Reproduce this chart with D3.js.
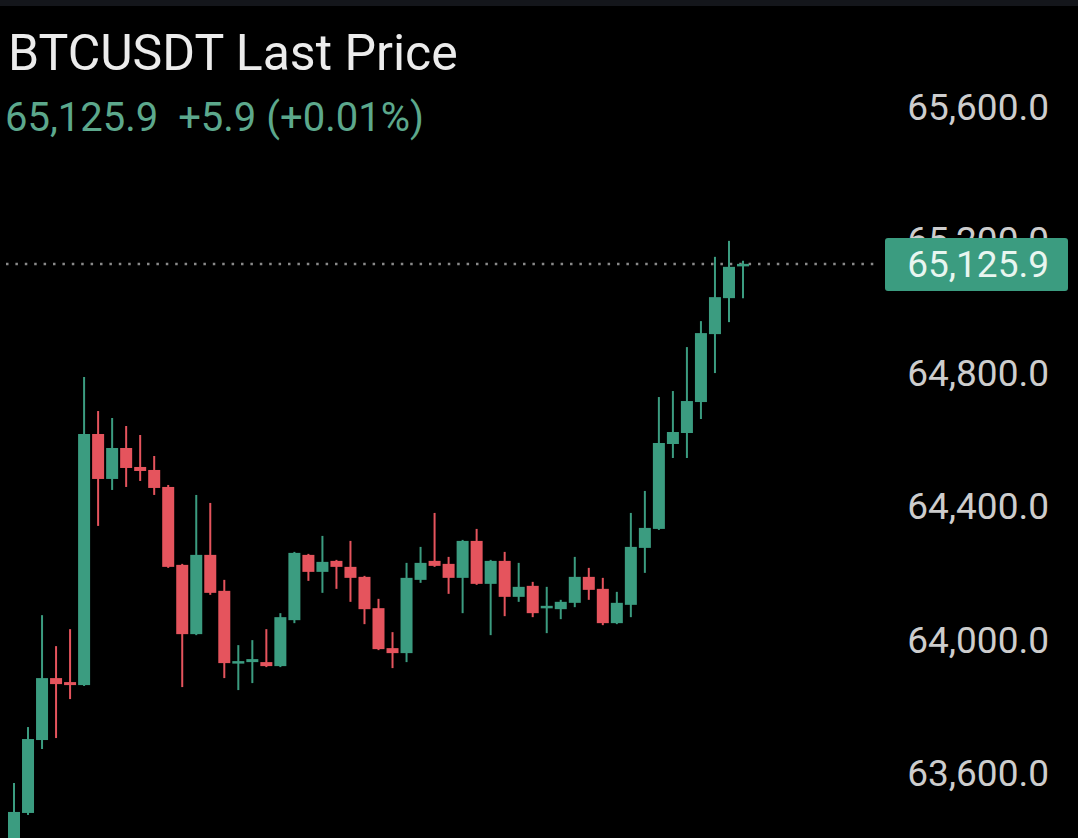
<!DOCTYPE html>
<html>
<head>
<meta charset="utf-8">
<script src="https://cdn.jsdelivr.net/npm/d3@7"></script>
<style>
  html, body { margin: 0; padding: 0; background: #000; }
  svg { display: block; }
</style>
</head>
<body>
<svg class="candle-chart"></svg>
<script>
'use strict';

// Candle data (one per bar, left to right)
var opens  = [63366, 63477, 63696, 63882, 63870, 63861, 64615, 64480, 64573, 64516,
              64507, 64456, 64222, 64014, 64252, 64144, 63927, 63930, 63930, 63918,
              64056, 64252, 64201, 64234, 64216, 64186, 64092, 63972, 63957, 64177,
              64234, 64225, 64183, 64294, 64165, 64234, 64126, 64159, 64092, 64089,
              64108, 64186, 64150, 64047, 64102, 64273, 64330, 64585, 64618, 64711,
              64915, 65023, 65120];
var highs  = [63567, 63735, 64071, 63978, 64029, 64786, 64684, 64663, 64639, 64612,
              64549, 64462, 64225, 64432, 64408, 64177, 63981, 63996, 64029, 64077,
              64261, 64255, 64309, 64237, 64294, 64189, 64120, 64020, 64228, 64276,
              64378, 64246, 64297, 64330, 64237, 64261, 64228, 64171, 64156, 64117,
              64246, 64213, 64183, 64141, 64378, 64444, 64726, 64744, 64876, 64954,
              65147, 65195, 65135];
var lows   = [63321, 63471, 63669, 63702, 63819, 63858, 64339, 64447, 64456, 64474,
              64432, 64213, 63855, 64011, 64132, 63882, 63846, 63867, 63915, 63915,
              64047, 64174, 64138, 64150, 64111, 64044, 63966, 63912, 63930, 64168,
              64216, 64135, 64077, 64162, 64011, 64068, 64111, 64065, 64017, 64059,
              64095, 64117, 64041, 64044, 64065, 64198, 64327, 64543, 64543, 64660,
              64798, 64951, 65023];
var closes = [63480, 63699, 63882, 63864, 63861, 64615, 64480, 64573, 64513, 64504,
              64453, 64216, 64014, 64252, 64138, 63927, 63933, 63939, 63918, 64065,
              64258, 64201, 64231, 64216, 64183, 64089, 63969, 63957, 64183, 64228,
              64219, 64183, 64294, 64165, 64234, 64126, 64156, 64077, 64099, 64111,
              64186, 64147, 64047, 64108, 64276, 64333, 64588, 64621, 64714, 64918,
              65026, 65117, 65125.9];

var priceTicks = [63600, 64000, 64400, 64800, 65200, 65600];
var lastPrice = 65125.9;
var titleText = 'BTCUSDT Last Price';
var changeText = '65,125.9  +5.9 (+0.01%)';

var width = 1078;
var height = 838;
var upColor = '#3b9c80';
var downColor = '#e5545d';

var candles = opens.map(function (o, i) {
  return { i: i, open: o, high: highs[i], low: lows[i], close: closes[i] };
});

//Scales
var xScale = d3.scaleLinear().domain([0, candles.length - 1]).range([14, 743]);
var yScale = d3.scaleLinear().domain([63600, 65600]).range([772, 106]);

var svg = d3.select('svg.candle-chart').attr('width', width).attr('height', height);

svg.append('rect').attr('width', width).attr('height', height).attr('fill', '#000');

//Clip the plot so the first candle runs off the bottom edge
svg.append('clipPath').attr('id', 'plot-clip')
  .append('rect').attr('x', 0).attr('y', 0).attr('width', 880).attr('height', height);

var plot = svg.append('g').attr('clip-path', 'url(#plot-clip)');

//Last price dotted line
plot.append('line')
  .attr('x1', 6).attr('x2', 884)
  .attr('y1', yScale(lastPrice)).attr('y2', yScale(lastPrice))
  .attr('stroke', '#8a8a8a').attr('stroke-width', 2.5)
  .attr('stroke-dasharray', '2.5 6.9');

//Wicks
plot.selectAll('line.wick').data(candles).enter().append('line').classed('wick', true)
  .attr('x1', function (d) { return xScale(d.i); })
  .attr('x2', function (d) { return xScale(d.i); })
  .attr('y1', function (d) { return yScale(d.high); })
  .attr('y2', function (d) { return yScale(d.low); })
  .attr('stroke', function (d) { return d.close >= d.open ? upColor : downColor; })
  .attr('stroke-width', 2);

//Bodies
plot.selectAll('rect.body').data(candles).enter().append('rect').classed('body', true)
  .attr('x', function (d) { return xScale(d.i) - 6; })
  .attr('width', 12)
  .attr('y', function (d) { return yScale(Math.max(d.open, d.close)); })
  .attr('height', function (d) {
    return Math.max(2.5, Math.abs(yScale(d.open) - yScale(d.close)));
  })
  .attr('fill', function (d) { return d.close >= d.open ? upColor : downColor; });

//Price axis on the right
var axis = svg.append('g').classed('y-axis', true).attr('transform', 'translate(1049,0)')
  .call(d3.axisRight(yScale).tickValues(priceTicks).tickSize(0).tickFormat(d3.format(',.1f')));
axis.select('.domain').remove();
axis.selectAll('text')
  .attr('x', 0)
  .attr('dy', '0.36em')
  .style('text-anchor', 'end')
  .style('font-family', 'Roboto, sans-serif')
  .style('font-size', '37px')
  .attr('fill', '#cdcdcd');

//Last price tag (covers the 65,200.0 label as in the app)
var tag = svg.append('g');
tag.append('rect')
  .attr('x', 885).attr('y', yScale(lastPrice) - 26)
  .attr('width', 183).attr('height', 53).attr('rx', 3)
  .attr('fill', '#3b9c80');
tag.append('text')
  .attr('x', 1049).attr('y', yScale(lastPrice)).attr('dy', '0.36em')
  .style('text-anchor', 'end')
  .style('font-family', 'Roboto, sans-serif').style('font-size', '37px')
  .attr('fill', '#e8f6f0')
  .text(d3.format(',.1f')(lastPrice));

//Top status strip
svg.append('rect').attr('width', width).attr('height', 6).attr('fill', '#14161b');

//Title and change line
svg.append('text').attr('x', 8).attr('y', 70)
  .style('font-family', 'Roboto, sans-serif').style('font-size', '50px')
  .attr('fill', '#ececec').text(titleText);

svg.append('text').attr('x', 5).attr('y', 131)
  .style('font-family', 'Roboto, sans-serif').style('font-size', '40px')
  .style('white-space', 'pre')
  .attr('fill', '#5ca88c').text(changeText);
</script>
</body>
</html>
